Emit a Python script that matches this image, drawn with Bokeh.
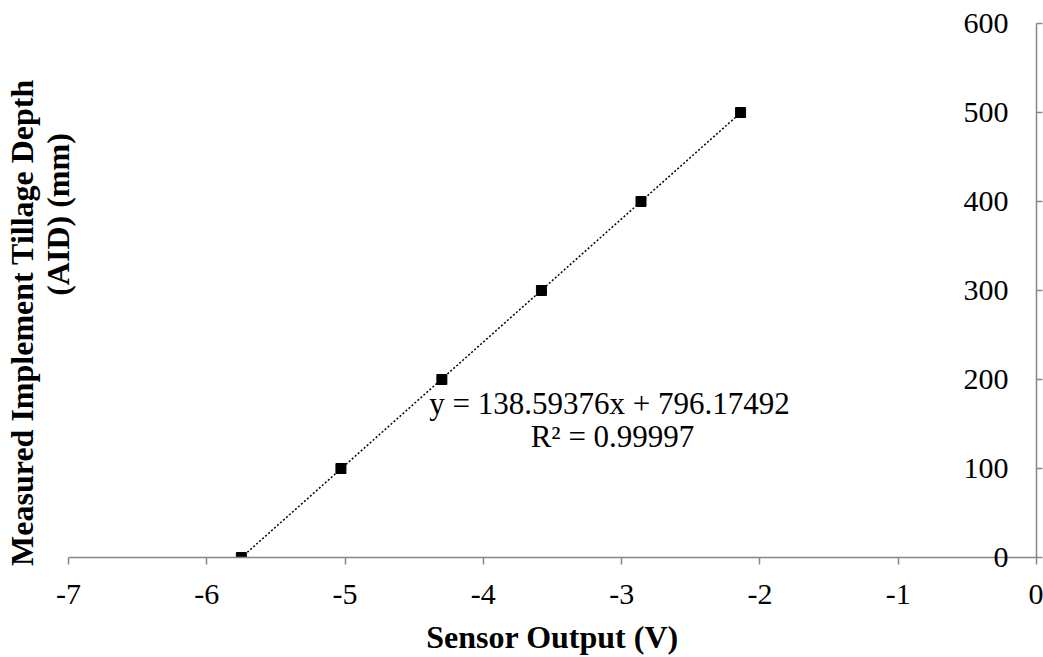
import numpy as np
from bokeh.plotting import figure
from bokeh.models import LinearAxis, Range1d, FixedTicker, Label
from bokeh.embed import file_html
from bokeh.resources import INLINE

# data
sensor_output = [-5.75, -5.03, -4.30, -3.58, -2.86, -2.14]
tillage_depth = [0, 100, 200, 300, 400, 500]
x_ticks = [-7, -6, -5, -4, -3, -2, -1, 0]
x_tick_labels = ["-7", "-6", "-5", "-4", "-3", "-2", "-1", "0"]
y_ticks = [0, 100, 200, 300, 400, 500, 600]
y_tick_labels = ["0", "100", "200", "300", "400", "500", "600"]
x_title = "Sensor Output (V)"
y_title_lines = ["Measured Implement Tillage Depth", "(AID) (mm)"]
equation_text = "y = 138.59376x + 796.17492"
r2_text = "R² = 0.99997"

FONT = "Liberation Serif"
AXIS_COLOR = "#868686"
TICK_SIZE = "30px"
NBSP = "\u00a0"

p = figure(width=1043, height=657, output_backend="svg", toolbar_location=None,
           x_range=Range1d(-7, 0), y_range=Range1d(0, 600),
           min_border_left=68, min_border_right=7, min_border_top=23, min_border_bottom=100,
           y_axis_location=None)
p.outline_line_color = None
p.xgrid.visible = False
p.ygrid.visible = False
p.background_fill_color = "white"
p.border_fill_color = "white"

# bottom x axis
xa = p.xaxis[0]
xa.ticker = FixedTicker(ticks=x_ticks)
xa.major_label_overrides = {t: s for t, s in zip(x_ticks, x_tick_labels)}
xa.axis_line_color = AXIS_COLOR
xa.axis_line_width = 1.5
xa.major_tick_line_color = AXIS_COLOR
xa.major_tick_line_width = 1.5
xa.major_tick_in = 0
xa.major_tick_out = 7
xa.minor_tick_line_color = None
xa.major_label_text_font = FONT
xa.major_label_text_font_size = TICK_SIZE
xa.major_label_text_color = "black"
xa.major_label_standoff = 20
xa.axis_label = x_title
xa.axis_label_text_font = FONT
xa.axis_label_text_font_style = "bold"
xa.axis_label_text_font_size = "32px"
xa.axis_label_text_color = "black"
xa.axis_label_standoff = 12

# y title: first line nudged down, second line nudged up (as in the original)
y_title = y_title_lines[0] + NBSP * 8 + "\n" + NBSP * 19 + y_title_lines[1]

# left axis: carries the y title, and its tick labels are shifted across the
# frame so that they sit just left of the right-hand axis line (x = 0)
la = LinearAxis(ticker=FixedTicker(ticks=y_ticks),
                major_label_overrides={t: s for t, s in zip(y_ticks, y_tick_labels)},
                axis_line_color=None, major_tick_line_color=None, minor_tick_line_color=None,
                major_tick_in=0, major_tick_out=0, minor_tick_in=0, minor_tick_out=0,
                major_label_text_font=FONT, major_label_text_font_size=TICK_SIZE,
                major_label_text_color="black", major_label_standoff=-940,
                axis_label=y_title, axis_label_text_font=FONT,
                axis_label_text_font_style="bold", axis_label_text_font_size="32px",
                axis_label_text_color="black", axis_label_text_line_height=1.0,
                axis_label_standoff=885)
p.add_layout(la, "left")

# right y axis: line and outward ticks only
ra = LinearAxis(ticker=FixedTicker(ticks=y_ticks),
                major_label_overrides={t: "" for t in y_ticks},
                major_label_text_color=None,
                axis_line_color=AXIS_COLOR, axis_line_width=1.5,
                major_tick_line_color=AXIS_COLOR, major_tick_line_width=1.5,
                major_tick_in=0, major_tick_out=6, minor_tick_line_color=None,
                major_label_standoff=0)
p.add_layout(ra, "right")

# trendline
slope, intercept = np.polyfit(sensor_output, tillage_depth, 1)
tx = np.array([min(sensor_output), max(sensor_output)])
p.line(tx, slope * tx + intercept, line_color="black", line_width=1.5, line_dash="2 2")

# points
p.scatter(sensor_output, tillage_depth, marker="square", size=10, color="black")

# equation labels
p.add_layout(Label(x=-3.088, y=173, text=equation_text, text_align="center",
                   text_baseline="middle", text_font=FONT, text_font_size="31px",
                   text_color="black"))
p.add_layout(Label(x=-3.066, y=136, text=r2_text, text_align="center",
                   text_baseline="middle", text_font=FONT, text_font_size="31px",
                   text_color="black"))

open("out.html", "w").write(file_html(p, INLINE))
